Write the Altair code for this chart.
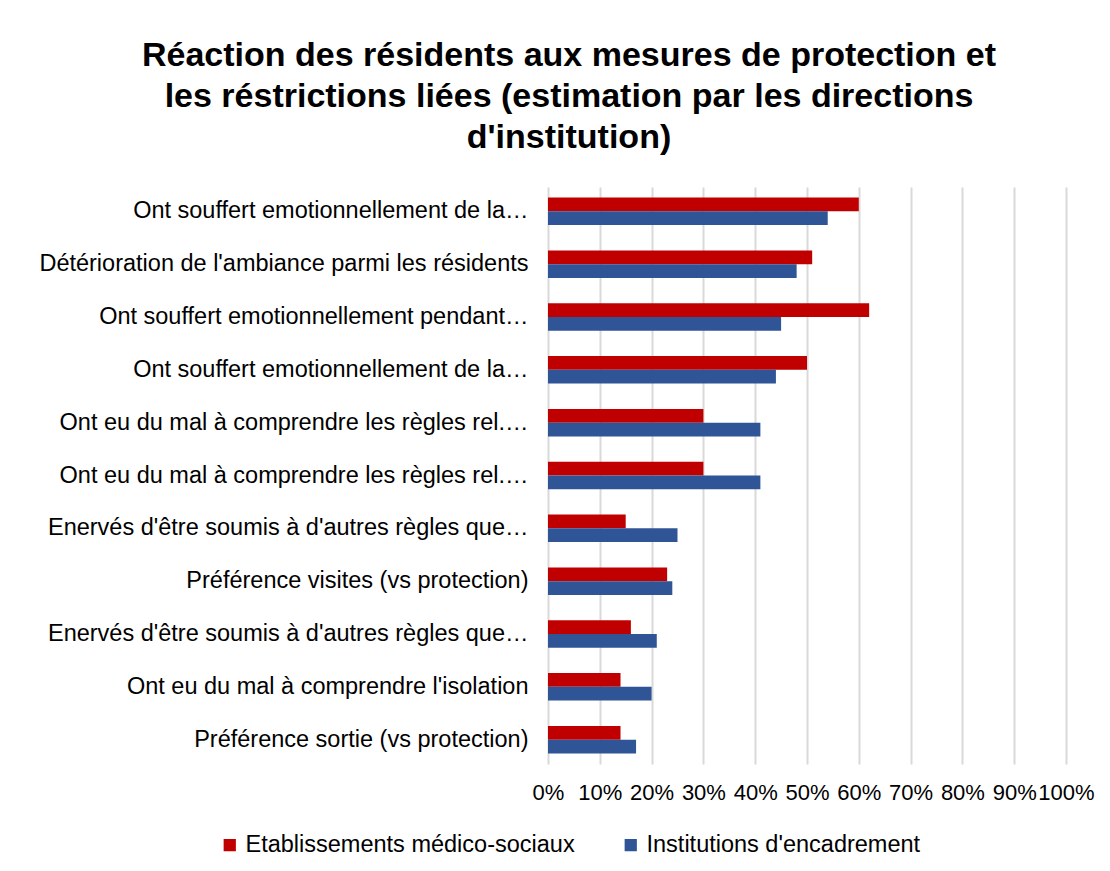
import altair as alt
import pandas as pd

categories = [
    "Ont souffert emotionnellement de la…",
    "Détérioration de l'ambiance parmi les résidents",
    "Ont souffert emotionnellement pendant…",
    "Ont souffert emotionnellement de la… ",
    "Ont eu du mal à comprendre les règles rel.…",
    "Ont eu du mal à comprendre les règles rel.… ",
    "Enervés d'être soumis à d'autres règles que…",
    "Préférence visites (vs protection)",
    "Enervés d'être soumis à d'autres règles que… ",
    "Ont eu du mal à comprendre l'isolation",
    "Préférence sortie (vs protection)",
]
series = ["Etablissements médico-sociaux", "Institutions d'encadrement"]
ems = [0.60, 0.51, 0.62, 0.50, 0.30, 0.30, 0.15, 0.23, 0.16, 0.14, 0.14]
inst = [0.54, 0.48, 0.45, 0.44, 0.41, 0.41, 0.25, 0.24, 0.21, 0.20, 0.17]
colors = ["#c00000", "#2f5597"]

rows = []
for c, a, b in zip(categories, ems, inst):
    rows.append({"cat": c, "serie": series[0], "val": a})
    rows.append({"cat": c, "serie": series[1], "val": b})
df = pd.DataFrame(rows)

FONT = "Liberation Sans"

chart = alt.Chart(df).mark_bar().encode(
    y=alt.Y("cat:N", sort=categories, title=None,
            scale=alt.Scale(paddingInner=0.48),
            axis=alt.Axis(labelFontSize=23.5, labelFont=FONT, labelColor="#000000",
                          labelLimit=540, labelPadding=20, ticks=False, domain=False)),
    yOffset=alt.YOffset("serie:N", sort=series),
    x=alt.X("val:Q", title=None,
            scale=alt.Scale(domain=[0, 1], nice=False),
            axis=alt.Axis(format=".0%", values=[i / 10 for i in range(11)],
                          labelFontSize=22, labelFont=FONT, labelColor="#000000",
                          grid=True, gridColor="#d9d9d9", gridWidth=2,
                          ticks=False, domain=False, labelPadding=18,
                          labelFlush=False, labelOverlap=False)),
    color=alt.Color("serie:N", sort=series,
                    scale=alt.Scale(domain=series, range=colors),
                    legend=alt.Legend(title=None, orient="none", direction="horizontal",
                                      columns=2, legendX=-330, legendY=646,
                                      symbolType="square", symbolSize=150,
                                      symbolStrokeWidth=0,
                                      labelFontSize=23.5, labelFont=FONT,
                                      labelColor="#000000", columnPadding=44,
                                      labelLimit=450)),
).properties(
    width=518,
    height=577,
    background="white",
    title=alt.TitleParams(
        text=["Réaction des résidents aux mesures de protection et",
              "les réstrictions liées (estimation par les directions",
              "d'institution)"],
        fontSize=34, font=FONT, fontWeight="bold", color="#000000",
        anchor="middle", dx=-238, offset=32, lineHeight=41,
    ),
    autosize=alt.AutoSizeParams(type="none"),
    padding={"left": 540, "top": 179, "right": 36, "bottom": 99},
).configure_view(stroke=None)

chart.save("out.html", embed_options={"renderer": "svg", "actions": False})
